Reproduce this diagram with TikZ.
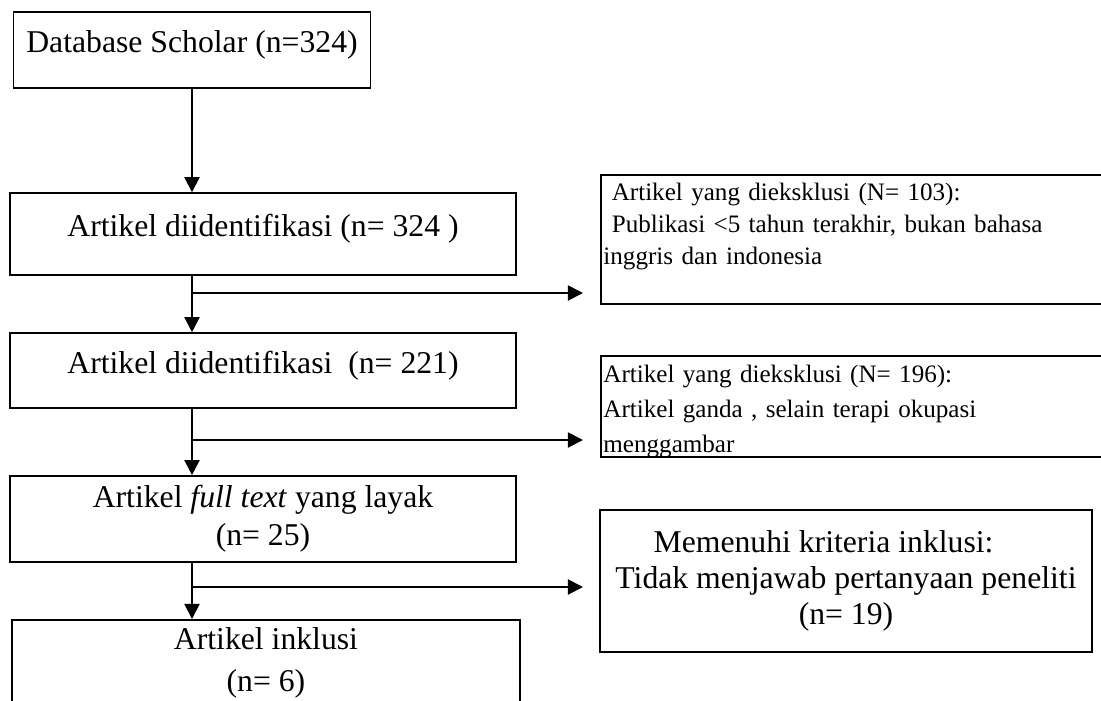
\documentclass[tikz,border=0pt]{standalone}
\usepackage{fontspec}
\setmainfont{Liberation Serif}
\usetikzlibrary{arrows.meta}

\begin{document}
\begin{tikzpicture}[x=0.3785pt, y=-0.3785pt,
        box/.style={draw, line width=0.6pt, inner sep=0pt, align=center,
            font=\fontsize{12}{14.4}\selectfont},
        onebox/.style={box, text height=8pt, text depth=6pt},
        exbox/.style={draw, line width=0.6pt, anchor=north west, align=left,
            inner xsep=1pt, inner ysep=0pt, font=\fontsize{9.5}{12}\selectfont},
        arr/.style={line width=0.7pt, -{Triangle[length=5.7pt, width=5.7pt]}}]

        % Page size of the flow chart
        \useasboundingbox (0,0) rectangle (1101,700);

        % Draw the main column of boxes
        \node[onebox, minimum width=135.1pt, minimum height=28.8pt] (scholar) at (192,50) {Database Scholar (n=324)};
        \node[onebox, minimum width=191.5pt, minimum height=31pt] (ident) at (263,234) {Artikel diidentifikasi (n= 324 )};
        \node[onebox, minimum width=191.5pt, minimum height=28.4pt] (screen) at (263,370.5) {Artikel diidentifikasi~ (n= 221)};
        \node[box, minimum width=191.5pt, minimum height=32.6pt] (full) at (263,519) {Artikel \textit{full text} yang layak\\(n= 25)};
        \node[box, anchor=north, minimum width=192.3pt, inner ysep=2.8pt, text depth=30pt] (incl) at (266,619) {Artikel inklusi\\[1.5pt](n= 6)};

        % Add the boxes on the right
        \node[exbox, text width=200pt, text height=9.8pt, text depth=39pt] (excl1) at (600,174) {~Artikel yang dieksklusi (N= 103):\\~Publikasi <5 tahun terakhir, bukan bahasa\\inggris dan indonesia};
        \node[exbox, text width=200pt, text height=10.2pt, text depth=28pt, font=\fontsize{9.5}{13.2}\selectfont] (excl2) at (600,355) {Artikel yang dieksklusi (N= 196):\\Artikel ganda , selain terapi okupasi\\menggambar};
        \node[box, minimum width=186.2pt, minimum height=53.7pt, font=\fontsize{12}{13.5}\selectfont] (crit) at (846,581) {Memenuhi kriteria inklusi:\hspace*{17pt}\\Tidak menjawab pertanyaan peneliti\\(n= 19)};

        % Ends of the side arrows
        \coordinate (t1) at (583,293);
        \coordinate (t2) at (583,440);
        \coordinate (t3) at (583,587);

        % Draw the arrows
        \draw[arr] (scholar.south) -- (scholar.south |- ident.north);
        \draw[arr] (ident.south -| scholar.south) -- (screen.north -| scholar.south);
        \draw[arr] (screen.south -| scholar.south) -- (full.north -| scholar.south);
        \draw[arr] (full.south -| scholar.south) -- (incl.north -| scholar.south);
        \draw[arr] (t1 -| scholar.south) -- (t1);
        \draw[arr] (t2 -| scholar.south) -- (t2);
        \draw[arr] (t3 -| scholar.south) -- (t3);

    \end{tikzpicture}
\end{document}
